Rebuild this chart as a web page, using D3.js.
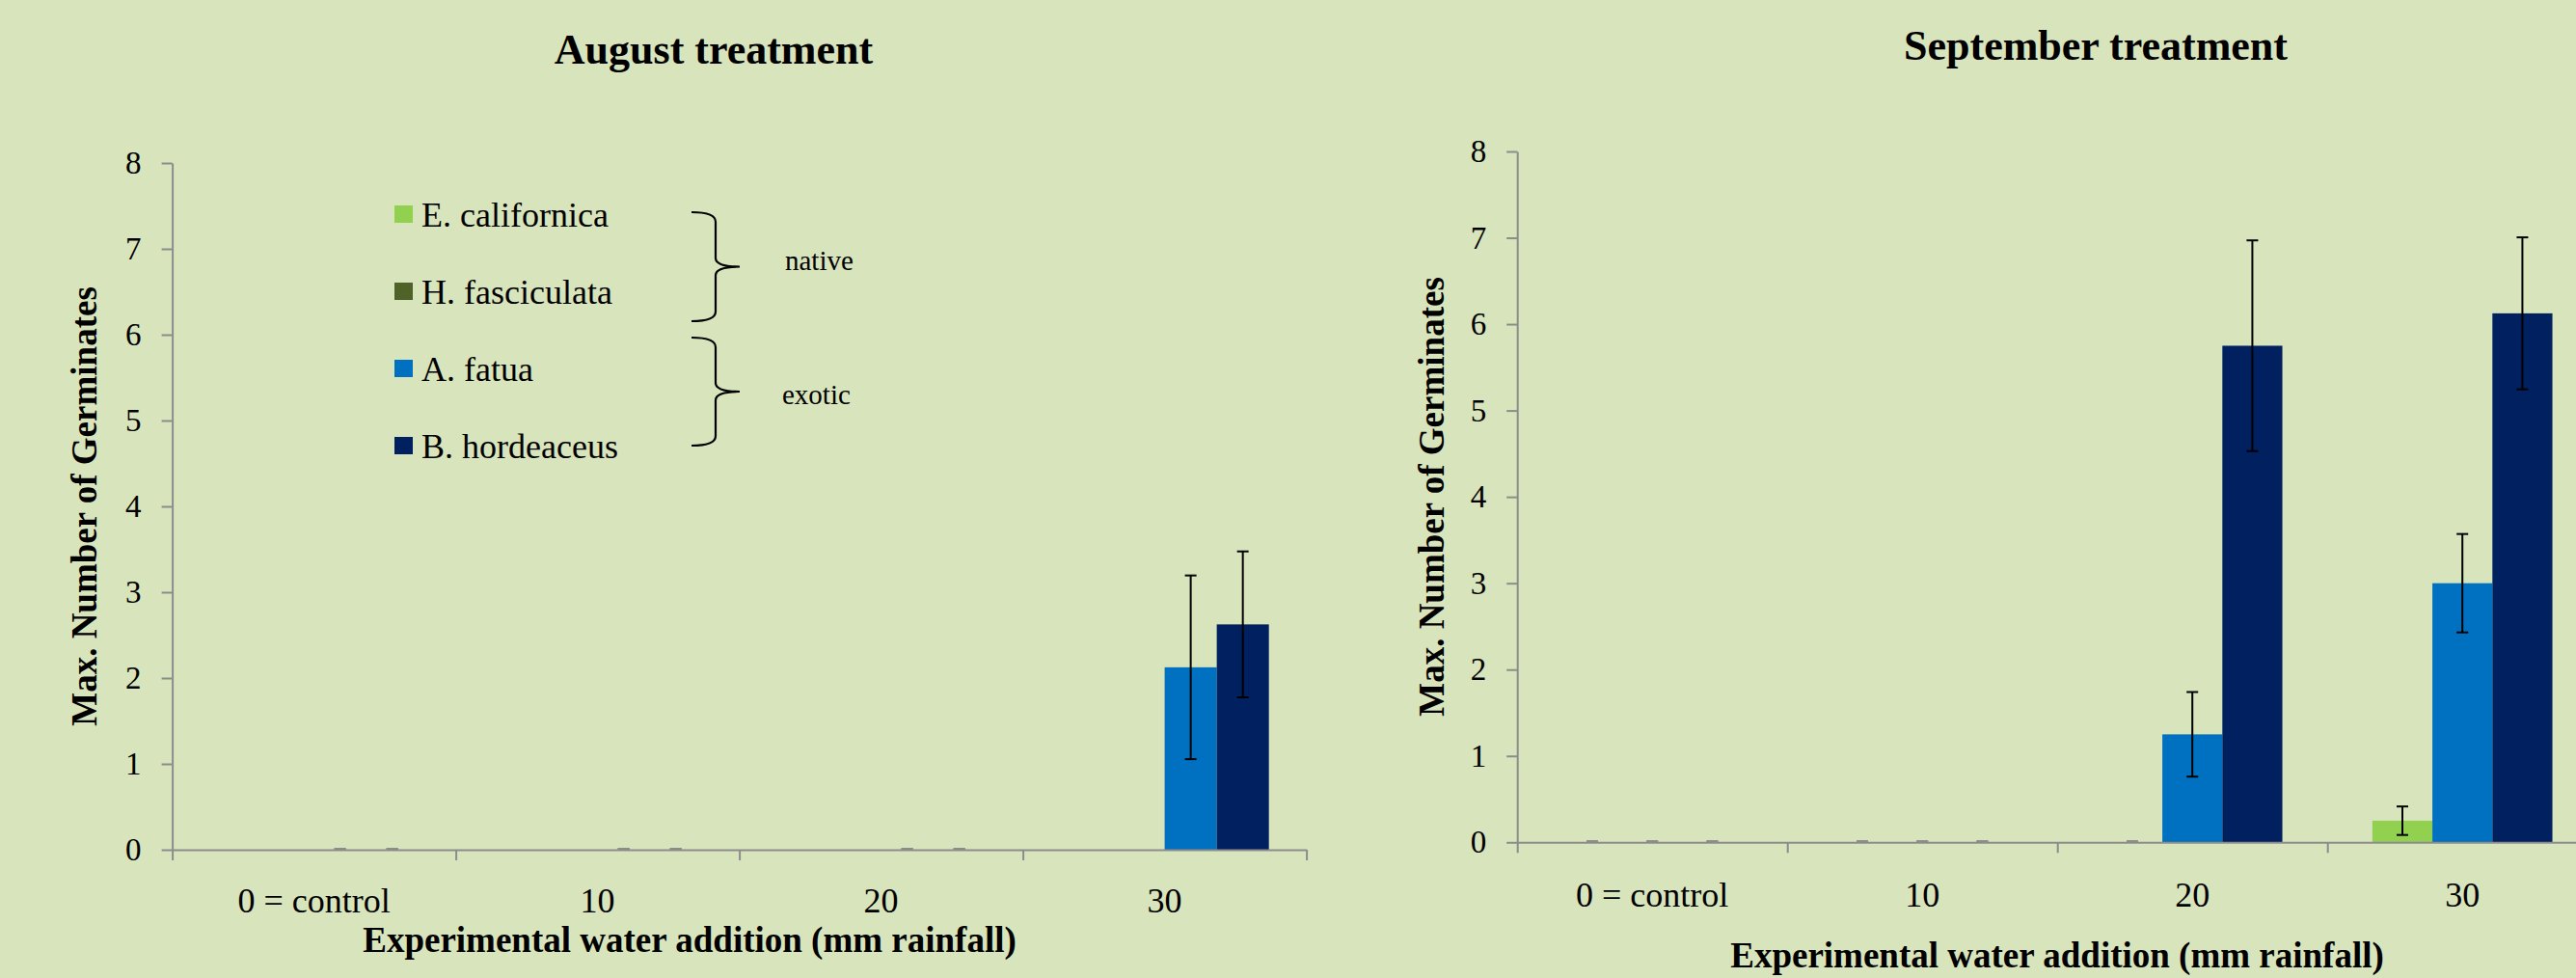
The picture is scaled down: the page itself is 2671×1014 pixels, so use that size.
<!DOCTYPE html>
<html>
<head>
<meta charset="utf-8">
<script src="https://cdn.jsdelivr.net/npm/d3@7"></script>
<style>
  html, body { margin: 0; padding: 0; background: #D8E4BC; }
  svg { display: block; }
  text { font-family: "Liberation Serif", "Times New Roman", serif; fill: #000; }
</style>
</head>
<body>
<svg id="chart" width="2671" height="1014"></svg>
<script>
// ---- Data ----
const categories = ["0 = control", "10", "20", "30"];
const yTicks = [0, 1, 2, 3, 4, 5, 6, 7, 8];

const speciesNames = ["E. californica", "H. fasciculata", "A. fatua", "B. hordeaceus"];
const speciesColors = ["#92D050", "#4F6228", "#0070C0", "#002060"];

// August treatment: mean max. germinates and standard error per water level
const augEcal = [0, 0, 0, 0];
const augHfas = [0, 0, 0, 0];
const augAfat = [0, 0, 0, 2.125];
const augBhor = [0, 0, 0, 2.625];
const augEcalErr = [null, null, null, null];
const augHfasErr = [null, null, null, null];
const augAfatErr = [0, 0, 0, 1.07];
const augBhorErr = [0, 0, 0, 0.85];

// September treatment (H. fasciculata not sown)
const sepEcal = [0, 0, 0, 0.25];
const sepAfat = [0, 0, 1.25, 3.0];
const sepBhor = [0, 0, 5.75, 6.125];
const sepEcalErr = [0, 0, 0, 0.165];
const sepAfatErr = [0, 0, 0.49, 0.57];
const sepBhorErr = [0, 0, 1.22, 0.88];

// ---- Drawing ----
const svg = d3.select("#chart");
svg.append("rect").attr("width", 2671).attr("height", 1014).attr("fill", "#D8E4BC");

const AXIS_COLOR = "#8C8C8C";

function drawPanel(p) {
  const g = svg.append("g");

  const y = d3.scaleLinear().domain([0, 8]).range([p.y0, p.y8]);
  const xCat = d3.scaleBand().domain(categories).range([p.x0, p.x1]).padding(0);
  const xSer = d3.scaleBand().domain(p.series.map(s => s.name))
    .range([0, xCat.bandwidth()]).paddingInner(0).paddingOuter(p.outerPad);
  const xEdge = d3.scaleLinear().domain([0, categories.length]).range([p.x0, p.x1]);

  // bars
  p.series.forEach(s => {
    g.append("g").selectAll("rect")
      .data(categories.map((c, i) => ({ c, v: s.values[i] })).filter(d => d.v > 0))
      .join("rect")
      .attr("x", d => xCat(d.c) + xSer(s.name))
      .attr("y", d => y(d.v))
      .attr("width", xSer.bandwidth())
      .attr("height", d => y(0) - y(d.v))
      .attr("fill", s.color);
  });

  // x axis (tick marks at category boundaries)
  const xAxis = g.append("g")
    .attr("transform", `translate(0,${y(0)})`)
    .call(d3.axisBottom(xEdge).tickValues(d3.range(categories.length + 1))
      .tickSize(11).tickSizeOuter(0).tickFormat(""));
  xAxis.select(".domain").attr("stroke", AXIS_COLOR).attr("stroke-width", 2);
  xAxis.selectAll(".tick line").attr("stroke", AXIS_COLOR).attr("stroke-width", 2);

  // y axis
  const yAxis = g.append("g")
    .attr("transform", `translate(${p.x0},0)`)
    .call(d3.axisLeft(y).tickValues(yTicks).tickSize(11).tickSizeOuter(0).tickPadding(21));
  yAxis.select(".domain").attr("stroke", AXIS_COLOR).attr("stroke-width", 2);
  yAxis.selectAll(".tick line").attr("stroke", AXIS_COLOR).attr("stroke-width", 2);
  yAxis.selectAll(".tick text")
    .attr("font-family", "'Liberation Serif', 'Times New Roman', serif")
    .attr("font-size", 33).attr("fill", "#000");

  // error bars
  p.series.forEach(s => {
    categories.forEach((c, i) => {
      const e = s.errors[i];
      if (e === null || e === undefined) return;
      const v = s.values[i];
      const cx = xCat(c) + xSer(s.name) + xSer.bandwidth() / 2;
      const col = e === 0 ? AXIS_COLOR : "#000";
      const yt = y(v + e), yb = y(Math.max(0, v - e));
      if (e > 0) {
        g.append("line").attr("x1", cx).attr("x2", cx).attr("y1", yt).attr("y2", yb)
          .attr("stroke", col).attr("stroke-width", 2);
      }
      [yt, yb].forEach(yy => {
        g.append("line").attr("x1", cx - 6).attr("x2", cx + 6).attr("y1", yy - (e === 0 ? 1 : 0)).attr("y2", yy - (e === 0 ? 1 : 0))
          .attr("stroke", col).attr("stroke-width", 2);
      });
    });
  });

  // category labels
  g.append("g").selectAll("text").data(categories).join("text")
    .attr("x", d => xCat(d) + xCat.bandwidth() / 2)
    .attr("y", p.catLabelY)
    .attr("text-anchor", "middle")
    .attr("font-size", 36)
    .text(d => d);

  // titles
  g.append("text").attr("x", p.titleX).attr("y", p.titleY)
    .attr("text-anchor", "middle").attr("font-size", 44).attr("font-weight", "bold")
    .text(p.title);
  g.append("text").attr("x", p.xTitleX).attr("y", p.xTitleY)
    .attr("text-anchor", "middle").attr("font-size", 37).attr("font-weight", "bold")
    .text("Experimental water addition (mm rainfall)");
  g.append("text")
    .attr("transform", `translate(${p.yTitleX},${p.yTitleY}) rotate(-90)`)
    .attr("text-anchor", "middle").attr("font-size", 37).attr("font-weight", "bold")
    .text("Max. Number of Germinates");
}

drawPanel({
  title: "August treatment", titleX: 740, titleY: 66,
  x0: 178.6, x1: 1354.6, y0: 881, y8: 169, outerPad: 0.72,
  catLabelY: 946, xTitleX: 715, xTitleY: 987, yTitleX: 100, yTitleY: 525,
  series: [
    { name: speciesNames[0], color: speciesColors[0], values: augEcal, errors: augEcalErr },
    { name: speciesNames[1], color: speciesColors[1], values: augHfas, errors: augHfasErr },
    { name: speciesNames[2], color: speciesColors[2], values: augAfat, errors: augAfatErr },
    { name: speciesNames[3], color: speciesColors[3], values: augBhor, errors: augBhorErr }
  ]
});

drawPanel({
  title: "September treatment", titleX: 2173, titleY: 62,
  x0: 1573.2, x1: 2693.2, y0: 873.3, y8: 157, outerPad: 0.75,
  catLabelY: 940, xTitleX: 2133, xTitleY: 1003, yTitleX: 1497, yTitleY: 515,
  series: [
    { name: speciesNames[0], color: speciesColors[0], values: sepEcal, errors: sepEcalErr },
    { name: speciesNames[2], color: speciesColors[2], values: sepAfat, errors: sepAfatErr },
    { name: speciesNames[3], color: speciesColors[3], values: sepBhor, errors: sepBhorErr }
  ]
});

// ---- Legend with native / exotic grouping braces ----
const legendX = 409, legendTop = 213, legendStep = 80;
const legend = svg.append("g");
const rows = legend.selectAll("g").data(speciesNames).join("g")
  .attr("transform", (d, i) => `translate(${legendX},${legendTop + i * legendStep})`);
rows.append("rect").attr("width", 19).attr("height", 18)
  .attr("fill", (d, i) => speciesColors[i]);
rows.append("text").attr("x", 28).attr("y", 22).attr("font-size", 36).text(d => d);

const groupLabels = ["native", "exotic"];
const braces = [
  { top: 220, bottom: 333, labelX: 814, labelY: 280 },
  { top: 350, bottom: 462, labelX: 811, labelY: 419 }
];
const bx0 = 717, bStem = 742, bTip = 767;
braces.forEach((b, i) => {
  const mid = (b.top + b.bottom) / 2;
  const path = d3.path();
  path.moveTo(bx0, b.top);
  path.quadraticCurveTo(bStem, b.top, bStem, b.top + 10);
  path.lineTo(bStem, mid - 9);
  path.quadraticCurveTo(bStem, mid, bTip, mid);
  path.quadraticCurveTo(bStem, mid, bStem, mid + 9);
  path.lineTo(bStem, b.bottom - 10);
  path.quadraticCurveTo(bStem, b.bottom, bx0, b.bottom);
  legend.append("path").attr("d", path.toString())
    .attr("fill", "none").attr("stroke", "#000").attr("stroke-width", 2.2);
  legend.append("text").attr("x", b.labelX).attr("y", b.labelY)
    .attr("font-size", 29).text(groupLabels[i]);
});
</script>
</body>
</html>
